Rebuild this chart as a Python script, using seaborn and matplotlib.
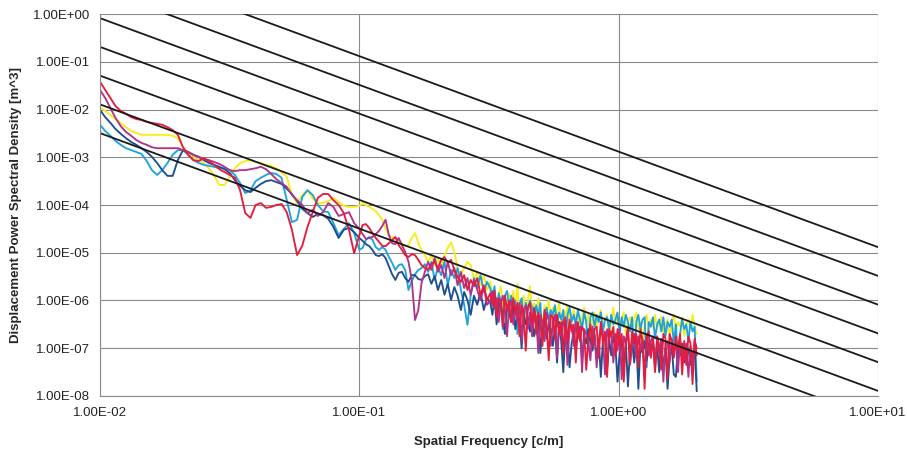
import numpy as np
import pandas as pd
import matplotlib
matplotlib.use('Agg')
import matplotlib.pyplot as plt
from matplotlib.ticker import FuncFormatter, NullLocator
import seaborn as sns

# sample frequencies [c/m]: coarse at low end, dense at high end
freq = np.concatenate([np.geomspace(0.01, 0.1, 50, endpoint=False),
                       np.geomspace(0.1, 0.32, 40, endpoint=False),
                       np.geomspace(0.32, 2.0, 100)])

red = [-1.42, -1.59, -1.76, -1.93, -2.03, -2.09, -2.16, -2.20, -2.22, -2.26,
       -2.28, -2.30, -2.32, -2.37, -2.43, -2.53, -2.79, -2.95, -3.06, -3.08,
       -3.02, -3.08, -3.16, -3.25, -3.31, -3.37, -3.43, -3.69, -4.17, -4.27,
       -4.00, -3.96, -4.06, -4.04, -4.00, -3.98, -4.15, -4.52, -5.05, -4.85,
       -4.46, -4.15, -3.85, -3.77, -3.77, -3.90, -4.00, -4.17, -4.52, -5.01,
       -4.63, -4.42, -4.40, -4.48, -4.59, -4.69, -4.77, -4.86, -4.86, -4.80,
       -4.73, -4.67, -4.84, -4.94, -5.05, -5.09, -5.03, -5.05, -5.15, -5.26,
       -5.32, -5.36, -5.24, -5.19, -5.32, -5.15, -5.09, -5.21, -5.15, -5.36,
       -5.51, -5.61, -5.47, -5.78, -5.57, -5.70, -5.53, -5.88, -5.68, -5.99,
       -5.85, -6.10, -5.80, -6.35, -5.95, -6.05, -6.55, -5.90, -6.20, -6.00,
       -6.45, -5.95, -6.25, -6.05, -6.75, -6.10, -6.30, -7.05, -6.15, -6.05,
       -6.50, -6.15, -6.70, -6.25, -6.45, -6.95, -6.20, -6.50, -7.25, -6.30,
       -6.35, -6.80, -6.30, -6.70, -6.45, -7.10, -6.35, -6.85, -6.40, -6.65,
       -6.50, -7.30, -6.45, -6.85, -6.55, -6.65, -7.45, -6.80, -6.50, -6.95,
       -6.60, -6.55, -7.20, -6.45, -6.90, -6.65, -7.60, -6.60, -6.75, -6.55,
       -7.15, -6.60, -6.95, -6.70, -7.70, -6.85, -6.55, -7.30, -6.65, -6.90,
       -6.70, -7.40, -6.60, -6.85, -7.85, -6.75, -6.65, -7.20, -6.80, -7.50,
       -6.75, -6.95, -7.45, -6.70, -6.80, -7.65, -6.70, -6.85, -7.20, -6.75,
       -7.05, -6.70, -7.55, -6.85, -7.35, -6.75, -6.90, -7.75, -6.80, -7.15]

magenta = [-1.59, -1.76, -1.97, -2.18, -2.35, -2.47, -2.55, -2.64, -2.70, -2.74,
           -2.79, -2.81, -2.81, -2.81, -2.81, -2.81, -2.85, -2.89, -2.95, -2.99,
           -3.04, -3.06, -3.10, -3.14, -3.20, -3.27, -3.29, -3.27, -3.27, -3.25,
           -3.23, -3.20, -3.25, -3.35, -3.46, -3.54, -3.62, -3.79, -3.90, -4.00,
           -4.17, -4.10, -4.23, -4.15, -3.96, -4.04, -4.23, -4.19, -4.15, -4.38,
           -4.50, -4.61, -4.71, -4.69, -4.67, -4.61, -4.54, -4.44, -4.31, -4.63,
           -4.80, -4.82, -4.69, -4.84, -4.98, -5.19, -5.57, -6.41, -6.20, -5.63,
           -5.40, -5.19, -5.36, -5.11, -5.40, -5.26, -5.53, -5.19, -5.47, -5.32,
           -5.68, -5.40, -5.74, -5.53, -5.88, -5.57, -5.78, -5.99, -5.72, -6.09,
           -6.00, -5.80, -6.15, -5.95, -6.45, -6.05, -5.90, -6.20, -6.75, -6.10,
           -6.00, -6.50, -6.15, -6.45, -6.05, -6.85, -6.20, -6.10, -6.60, -6.25,
           -6.75, -6.20, -6.35, -7.10, -6.30, -6.45, -6.85, -6.25, -6.40, -6.95,
           -6.45, -6.30, -7.20, -6.50, -6.75, -6.40, -6.60, -7.35, -6.55, -6.50,
           -6.95, -6.45, -6.80, -6.55, -7.50, -6.60, -6.70, -6.90, -7.25, -6.55,
           -6.75, -7.40, -6.85, -6.55, -6.70, -7.55, -6.60, -6.80, -6.65, -7.30,
           -6.70, -7.05, -6.60, -7.65, -6.75, -6.90, -6.65, -7.35, -6.95, -6.70,
           -7.20, -6.75, -7.05, -6.80, -7.60, -6.70, -7.15, -6.85, -6.75, -7.45,
           -6.85, -7.10, -6.80, -7.70, -6.90, -6.85, -7.30, -6.80, -7.05, -6.90,
           -7.50, -6.85, -7.05, -7.25, -6.90, -7.60, -6.95, -7.30, -6.85, -7.00]

yellow = [-1.95, -2.03, -2.12, -2.20, -2.28, -2.37, -2.45, -2.49, -2.53, -2.53,
          -2.53, -2.53, -2.53, -2.53, -2.55, -2.60, -2.79, -2.91, -2.99, -3.06,
          -3.12, -3.23, -3.39, -3.58, -3.58, -3.41, -3.23, -3.12, -3.08, -3.06,
          -3.10, -3.12, -3.16, -3.18, -3.23, -3.31, -3.41, -3.79, -3.96, -3.79,
          -3.69, -3.87, -3.96, -3.96, -3.92, -3.85, -3.94, -4.02, -4.04, -4.04,
          -4.02, -3.96, -4.00, -4.04, -4.08, -4.13, -4.21, -4.31, -4.50, -4.63,
          -4.67, -4.69, -4.73, -4.80, -4.86, -4.84, -4.69, -4.59, -4.80, -4.94,
          -5.05, -5.19, -5.05, -5.26, -5.11, -5.32, -5.05, -4.90, -4.78, -4.98,
          -5.32, -5.47, -5.32, -5.19, -5.26, -5.57, -5.40, -5.68, -5.49, -5.78,
          -5.60, -6.00, -5.75, -6.20, -5.90, -5.70, -6.10, -5.95, -6.30, -5.85,
          -6.05, -5.80, -6.20, -5.65, -6.40, -6.10, -5.90, -6.25, -6.00, -5.70,
          -6.20, -6.05, -6.35, -5.95, -6.25, -6.50, -6.10, -6.30, -6.00, -6.40,
          -6.15, -6.60, -6.25, -6.05, -6.45, -6.20, -6.35, -6.10, -6.55, -6.30,
          -6.20, -6.45, -6.25, -6.70, -6.35, -6.15, -6.50, -6.30, -6.85, -6.40,
          -6.25, -6.55, -6.35, -6.20, -6.60, -6.40, -6.30, -6.75, -6.45, -6.15,
          -6.50, -6.35, -6.60, -6.40, -6.25, -6.70, -6.45, -6.35, -6.55, -6.40,
          -6.25, -6.60, -6.45, -6.90, -6.50, -6.30, -6.65, -6.40, -6.55, -6.30,
          -6.60, -6.45, -6.35, -6.70, -6.50, -6.40, -6.80, -6.45, -6.30, -6.65,
          -6.45, -6.55, -6.35, -6.75, -6.50, -6.40, -6.60, -6.30, -6.55, -6.70]

navy = [-2.01, -2.16, -2.28, -2.41, -2.51, -2.60, -2.68, -2.74, -2.81, -2.89,
        -2.99, -3.12, -3.27, -3.39, -3.39, -3.06, -2.85, -2.89, -2.95, -2.99,
        -3.06, -3.12, -3.16, -3.20, -3.25, -3.33, -3.48, -3.60, -3.69, -3.73,
        -3.64, -3.56, -3.50, -3.48, -3.52, -3.56, -3.66, -3.77, -3.92, -4.08,
        -4.17, -4.25, -4.19, -4.21, -4.29, -4.46, -4.69, -4.52, -4.48, -4.57,
        -4.69, -4.75, -4.82, -4.86, -4.94, -5.05, -5.07, -5.03, -5.11, -5.28,
        -5.45, -5.57, -5.42, -5.40, -5.53, -5.61, -5.47, -5.47, -5.55, -5.57,
        -5.49, -5.45, -5.65, -5.49, -5.78, -5.57, -5.88, -5.65, -5.99, -5.72,
        -5.90, -6.20, -5.82, -5.99, -6.30, -5.90, -6.09, -5.82, -6.20, -5.95,
        -6.05, -6.30, -5.95, -6.50, -6.15, -6.00, -6.35, -6.70, -6.10, -6.25,
        -6.45, -6.15, -6.60, -6.30, -6.40, -7.00, -6.25, -6.50, -6.35, -6.65,
        -6.40, -6.75, -6.50, -6.35, -7.10, -6.55, -6.45, -6.80, -6.50, -6.60,
        -6.95, -6.55, -7.30, -6.45, -6.85, -7.50, -6.60, -6.75, -7.40, -6.90,
        -6.65, -7.00, -6.70, -6.55, -7.25, -6.75, -6.90, -6.60, -6.85, -7.05,
        -6.70, -7.25, -6.80, -7.60, -6.85, -6.70, -7.45, -6.80, -7.15, -6.75,
        -6.95, -7.70, -7.10, -6.85, -7.40, -6.90, -7.80, -7.05, -6.85, -7.30,
        -6.80, -7.85, -6.95, -7.10, -6.85, -7.25, -6.90, -7.05, -6.85, -7.30,
        -6.95, -7.50, -6.85, -7.45, -7.00, -7.85, -7.20, -6.95, -7.55, -7.60,
        -7.00, -7.15, -6.90, -7.30, -7.05, -7.00, -7.35, -7.10, -7.00, -7.90]

cyan = [-2.32, -2.45, -2.55, -2.66, -2.74, -2.81, -2.85, -2.89, -2.93, -3.08,
        -3.27, -3.37, -3.27, -3.12, -2.95, -2.85, -2.85, -2.95, -3.06, -3.12,
        -3.16, -3.18, -3.20, -3.23, -3.23, -3.27, -3.37, -3.54, -3.75, -3.69,
        -3.50, -3.43, -3.37, -3.33, -3.35, -3.43, -3.90, -4.36, -4.31, -3.83,
        -3.69, -3.79, -4.00, -4.13, -4.15, -4.38, -4.63, -4.50, -4.38, -4.59,
        -4.94, -4.90, -4.73, -4.67, -4.73, -4.88, -4.94, -4.88, -4.94, -5.09,
        -5.21, -5.36, -5.26, -5.24, -5.36, -5.78, -5.59, -5.45, -5.36, -5.32,
        -5.24, -5.40, -5.19, -5.57, -5.30, -5.47, -5.19, -5.68, -5.36, -5.53,
        -5.32, -5.78, -6.09, -6.51, -5.88, -5.53, -5.74, -5.47, -5.82, -5.61,
        -5.75, -6.05, -5.70, -6.30, -5.85, -6.00, -6.60, -5.90, -5.80, -6.15,
        -5.90, -6.25, -6.00, -6.70, -6.10, -5.95, -6.35, -6.05, -6.20, -6.00,
        -6.15, -6.45, -6.10, -6.30, -6.05, -6.85, -6.25, -6.15, -6.40, -6.20,
        -6.30, -6.10, -6.55, -6.25, -6.40, -6.20, -6.95, -6.30, -6.15, -6.45,
        -6.30, -6.50, -6.20, -6.40, -6.60, -6.25, -6.45, -7.05, -6.35, -6.25,
        -6.55, -6.30, -6.45, -6.25, -6.65, -6.40, -6.35, -6.60, -6.30, -6.50,
        -6.40, -6.25, -6.70, -6.35, -6.55, -6.30, -6.45, -6.65, -6.35, -7.20,
        -6.45, -6.30, -6.60, -6.40, -6.35, -7.40, -6.45, -6.55, -6.35, -6.80,
        -6.50, -6.40, -6.65, -6.35, -6.75, -6.45, -6.55, -6.40, -6.90, -6.50,
        -7.25, -6.70, -6.40, -6.60, -6.50, -6.85, -6.45, -6.65, -6.55, -7.70]

runs = ['yellow', 'cyan', 'navy', 'magenta', 'red']
run_colors = {'yellow': '#f7ec1c', 'cyan': '#1fa3df', 'navy': '#1f4f8f',
              'magenta': '#b0338c', 'red': '#e41d3c'}

# road class boundary lines (value at 0.01 and at 10 c/m)
class_x = [0.01, 10.0]
class_start = [3.2e-3, 1.28e-2, 5.12e-2, 2.048e-1, 8.192e-1, 3.2768, 13.1072]
class_end = [3.2e-9, 1.28e-8, 5.12e-8, 2.048e-7, 8.192e-7, 3.2768e-6, 1.31072e-5]

vals = {'yellow': yellow, 'cyan': cyan, 'navy': navy, 'magenta': magenta, 'red': red}
rows = []
for r in runs:
    for f, v in zip(freq, vals[r]):
        rows.append({'run': r, 'freq': f, 'psd': 10 ** v})
df = pd.DataFrame(rows)

cls_rows = []
for i in range(len(class_start)):
    cls_rows.append({'cls': i, 'freq': class_x[0], 'psd': class_start[i]})
    cls_rows.append({'cls': i, 'freq': class_x[1], 'psd': class_end[i]})
df_cls = pd.DataFrame(cls_rows)

sns.set_style('white')
plt.rcParams['font.family'] = ['Liberation Sans', 'DejaVu Sans']

fig, ax = plt.subplots(figsize=(9.07, 4.58), dpi=100)
fig.subplots_adjust(left=0.1103, right=0.968, top=0.9694, bottom=0.1354)

sns.lineplot(data=df, x='freq', y='psd', hue='run', hue_order=runs,
             palette=run_colors, sort=False, estimator=None, legend=False,
             linewidth=1.35, ax=ax)
sns.lineplot(data=df_cls, x='freq', y='psd', units='cls', estimator=None,
             color='#1a1a1a', linewidth=1.3, legend=False, ax=ax)

ax.set_xscale('log')
ax.set_yscale('log')
ax.set_xlim(0.01, 10)
ax.set_ylim(1e-8, 1)
ax.set_xticks([1e-2, 1e-1, 1e0, 1e1])
ax.set_yticks([10.0 ** p for p in range(-8, 1)])
ax.xaxis.set_minor_locator(NullLocator())
ax.yaxis.set_minor_locator(NullLocator())
fmt = FuncFormatter(lambda v, p: f'{v:.2E}')
ax.xaxis.set_major_formatter(fmt)
ax.yaxis.set_major_formatter(fmt)
ax.tick_params(length=0, labelsize=9.5, colors='#222222')
ax.tick_params(axis='x', pad=8)
ax.tick_params(axis='y', pad=7)

ax.grid(True, which='major', color='#8a8a8a', linewidth=0.8)
ax.set_axisbelow(True)
for s in ['top', 'right']:
    ax.spines[s].set_visible(False)
for s in ['left', 'bottom']:
    ax.spines[s].set_color('#8a8a8a')
    ax.spines[s].set_linewidth(0.8)

ax.set_xlabel('Spatial Frequency [c/m]', fontsize=9.5, fontweight='bold', labelpad=12)
ax.set_ylabel('Displacement Power Spectral Density [m^3]', fontsize=9.5,
              fontweight='bold', labelpad=8)

fig.savefig('out.png', dpi=100)
